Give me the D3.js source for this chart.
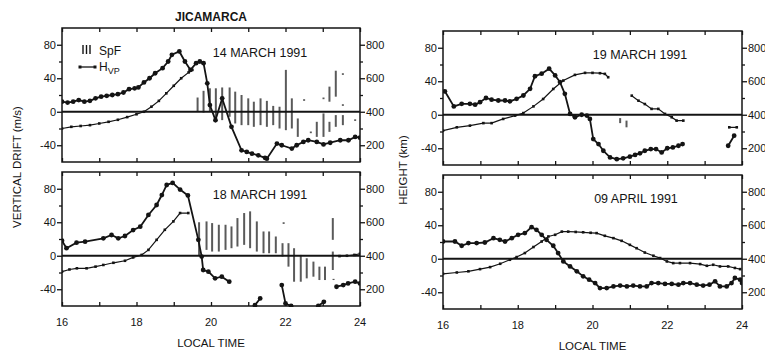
<!DOCTYPE html>
<html><head><meta charset="utf-8">
<script src="https://cdn.jsdelivr.net/npm/d3@7"></script>
<style>
body{margin:0;background:#fff}
svg{display:block}
text{font-family:"Liberation Sans",Arial,Helvetica,sans-serif;fill:#141414}
</style>
</head><body>
<svg id="chart" width="765" height="351"></svg>
<script>
// ---------- tick data ----------
const hourTicks = [16,17,18,19,20,21,22,23,24];
const hourLabels = [16,18,20,22,24];
const driftTicks = [-40,0,40,80];
const driftMinorTicks = [-20,20,60];
const heightTicks = [200,400,600,800];
const heightMinorTicks = [300,500,700];

// ---------- 14 MARCH 1991 ----------
const mar14Drift = [[16.0,12],[16.15,11],[16.3,12],[16.45,14],[16.6,12],[16.75,13],[16.9,16],[17.05,18],[17.2,19],[17.35,20],[17.5,21],[17.65,23],[17.8,27],[17.95,28],[18.05,29],[18.2,35],[18.35,40],[18.5,46],[18.7,52],[18.85,60],[18.95,68],[19.15,72],[19.3,60],[19.45,50],[19.6,58],[19.7,60],[19.8,58],[19.9,34],[19.97,8],[20.12,-10],[20.3,16],[20.55,-18],[20.82,-46],[20.96,-48],[21.1,-50],[21.27,-52],[21.45,-55],[21.5,-56],[21.77,-38],[21.9,-40],[22.17,-44],[22.3,-40],[22.48,-36],[22.61,-34],[22.84,-36],[23.02,-39],[23.2,-37],[23.47,-34],[23.69,-34],[23.87,-30],[24.0,-31]];
const mar14Height = [[16.0,300],[16.25,310],[16.5,315],[16.75,320],[17.0,330],[17.25,340],[17.5,352],[17.75,368],[18.0,385],[18.2,400],[18.4,430],[18.6,465],[18.8,510],[19.0,555],[19.2,600],[19.4,635],[19.5,650]];
const mar14SpF = [[19.64,400,485],[19.80,395,525],[19.97,400,540],[20.13,360,540],[20.30,350,545],[20.50,370,545],[20.65,330,520],[20.82,320,500],[21.00,320,480],[21.15,310,460],[21.33,320,480],[21.50,310,465],[21.67,320,435],[21.84,300,430],[22.01,290,650],[22.17,300,480],[22.33,250,360],[22.50,465,475],[22.68,272,282],[22.84,250,340],[23.02,475,485],[23.02,250,390],[23.18,460,550],[23.18,280,340],[23.35,490,645],[23.35,310,380],[23.54,620,630],[23.54,435,445],[23.54,320,380],[23.87,345,355]];

// ---------- 18 MARCH 1991 ----------
const mar18Drift = [[16.0,18],[16.12,9],[16.39,15.6],[16.62,16.8],[17.11,20.8],[17.33,24.8],[17.51,20.8],[17.69,23.6],[17.91,30.7],[18.1,34.7],[18.32,48.7],[18.54,60.6],[18.68,72.5],[18.81,84.5],[18.97,87],[19.17,79],[19.38,72],[19.66,19],[19.75,-1],[19.79,-17],[19.93,-19],[20.11,-27],[20.29,-25],[20.49,-31],null,[21.18,-59],[21.32,-51],null,[21.9,-35],[22.0,-57],[22.15,-60],null,[22.88,-60],[23.03,-55],null,[23.37,-37],[23.55,-35],[23.68,-33],[23.87,-31],[24.0,-33]];
const mar18Height = [[16.0,305],[16.2,318],[16.4,325],[16.66,325],[16.9,335],[17.11,345],[17.38,358],[17.69,370],[17.91,390],[18.14,405],[18.32,435],[18.54,495],[18.76,555],[18.99,605],[19.17,655],[19.39,655],null,[23.45,398],[23.65,400],[23.85,405],[24.0,412]];
const mar18SpF = [[19.68,400,600],[19.88,435,605],[20.03,425,595],[20.21,425,585],[20.39,435,585],[20.55,445,575],[20.71,455,625],[20.89,465,655],[21.05,445,665],[21.23,425,605],[21.41,415,545],[21.56,415,545],[21.74,415,515],[21.92,395,475],[21.95,590,600],[22.08,335,475],[22.23,245,445],[22.41,245,405],[22.57,265,385],[22.75,275,365],[22.91,255,335],[23.06,255,335],[23.27,495,625],[23.27,315,425],[23.29,255,262]];

// ---------- 19 MARCH 1991 ----------
const mar19Drift = [[16.05,28],[16.29,10],[16.5,13],[16.72,13],[16.86,12],[16.99,15],[17.15,20],[17.3,18],[17.48,17],[17.66,17],[17.79,16],[17.97,19],[18.15,23],[18.33,31],[18.46,46],[18.64,49],[18.84,55],[19.0,47],[19.13,39],[19.26,25],[19.4,1],[19.53,-3],[19.71,0],[19.85,-1],[19.93,-5],[20.02,-29],[20.16,-35],[20.29,-43],[20.47,-51],[20.65,-53],[20.82,-52],[21.0,-50],[21.14,-48],[21.27,-46],[21.4,-43],[21.56,-41],[21.7,-41],[21.85,-45],[22.0,-40],[22.15,-39],[22.3,-37],[22.41,-35],null,[23.63,-37],[23.79,-25]];
const mar19Height = [[16.0,305],[16.37,325],[16.72,335],[17.08,350],[17.3,350],[17.61,375],[17.93,395],[18.15,410],[18.42,450],[18.68,494],[18.95,554],[19.22,604],[19.53,638],[19.8,650],[20.0,650],[20.2,648],[20.33,644],[20.42,624],null,[21.05,514],[21.23,484],[21.4,464],[21.58,435],[21.76,435],[21.94,405],[22.12,385],[22.25,365],[22.43,365],null,[23.66,325],[23.86,325]];
const mar19SpF = [[20.74,350,380],[20.91,325,365]];

// ---------- 09 APRIL 1991 ----------
const apr09Drift = [[16.0,20.6],[16.32,20.6],[16.5,15.5],[16.68,18.7],[16.9,18.7],[17.12,19.4],[17.35,24.6],[17.52,22.6],[17.66,20.6],[17.84,24.6],[18.01,28.6],[18.19,30.6],[18.37,37.7],[18.5,34.5],[18.64,28.6],[18.77,22.6],[18.95,15.5],[19.08,6.8],[19.22,-3.2],[19.4,-9.2],[19.58,-15],[19.75,-21],[19.91,-25],[20.07,-29],[20.2,-35],[20.38,-35],[20.56,-33],[20.74,-32],[20.92,-33],[21.09,-32],[21.27,-33],[21.45,-33],[21.58,-29],[21.76,-29],[21.94,-30],[22.12,-30],[22.3,-31],[22.43,-29],[22.61,-29],[22.79,-31],[22.96,-32],[23.13,-31],[23.28,-27],[23.41,-33],[23.59,-33],[23.72,-29],[23.81,-23],[23.95,-25],[24.0,-29]];
const apr09Height = [[16.0,310],[16.37,318],[16.68,325],[16.99,338],[17.26,350],[17.53,370],[17.79,394],[17.97,410],[18.19,434],[18.42,470],[18.64,503],[18.82,533],[19.0,543],[19.18,562],[19.35,562],[19.55,560],[19.75,558],[19.95,555],[20.11,553],[20.33,537],[20.56,523],[20.78,507],[21.0,483],[21.18,463],[21.4,437],[21.63,418],[21.81,404],[21.99,384],[22.16,374],[22.34,374],[22.61,374],[22.88,368],[23.06,358],[23.23,364],[23.41,354],[23.63,354],[23.81,345],[23.95,338]];
const apr09SpF = [];

// ---------- layout ----------
const panels = [
  {x0:62, x1:360, y0:28,  y1:162, title:"14 MARCH 1991", tx:260, ty:57,  drift:mar14Drift, height:mar14Height, spf:mar14SpF, bottomLabels:false},
  {x0:62, x1:360, y0:172, y1:306, title:"18 MARCH 1991", tx:260, ty:199, drift:mar18Drift, height:mar18Height, spf:mar18SpF, bottomLabels:true},
  {x0:443,x1:742, y0:31,  y1:165, title:"19 MARCH 1991", tx:640, ty:59,  drift:mar19Drift, height:mar19Height, spf:mar19SpF, bottomLabels:false},
  {x0:443,x1:742, y0:175, y1:309, title:"09 APRIL 1991", tx:636, ty:203, drift:apr09Drift, height:apr09Height, spf:apr09SpF, bottomLabels:true}
];

const svg = d3.select("#chart");
const ink = "#141414";

panels.forEach((p, i) => {
  const x = d3.scaleLinear().domain([16,24]).range([p.x0,p.x1]);
  const yD = d3.scaleLinear().domain([-60,100]).range([p.y1,p.y0]);
  const yH = d3.scaleLinear().domain([100,900]).range([p.y1,p.y0]);
  const g = svg.append("g");

  const clipId = "clip"+i;
  svg.append("clipPath").attr("id",clipId).append("rect")
     .attr("x",p.x0).attr("y",p.y0-1).attr("width",p.x1-p.x0).attr("height",p.y1-p.y0+2);

  // axes (ticks)
  const styleAxis = sel => { sel.select(".domain").remove(); sel.selectAll("line").attr("stroke",ink).attr("stroke-width",1.3); sel.selectAll("text").remove(); };
  g.append("g").attr("transform",`translate(0,${p.y0})`).call(d3.axisTop(x).tickValues(hourTicks).tickSize(-4)).call(styleAxis);
  g.append("g").attr("transform",`translate(0,${p.y1})`).call(d3.axisBottom(x).tickValues(hourTicks).tickSize(-4)).call(styleAxis);
  g.append("g").attr("transform",`translate(${p.x0},0)`).call(d3.axisLeft(yD).tickValues(driftTicks).tickSize(5)).call(styleAxis);
  g.append("g").attr("transform",`translate(${p.x0},0)`).call(d3.axisLeft(yD).tickValues(driftMinorTicks).tickSize(3)).call(styleAxis);
  g.append("g").attr("transform",`translate(${p.x1},0)`).call(d3.axisRight(yH).tickValues(heightTicks).tickSize(5)).call(styleAxis);
  g.append("g").attr("transform",`translate(${p.x1},0)`).call(d3.axisRight(yH).tickValues(heightMinorTicks).tickSize(3)).call(styleAxis);

  // tick labels
  g.selectAll(null).data(driftTicks).join("text")
    .attr("x",p.x0-6).attr("y",d=>yD(d)+4).attr("text-anchor","end")
    .attr("font-size",11).text(d=>d);
  g.selectAll(null).data(heightTicks).join("text")
    .attr("x",p.x1+6).attr("y",d=>yH(d)+4).attr("text-anchor","start")
    .attr("font-size",11).text(d=>d);
  if (p.bottomLabels) {
    g.selectAll(null).data(hourLabels).join("text")
      .attr("x",d=>x(d)).attr("y",p.y1+20).attr("text-anchor","middle")
      .attr("font-size",11).text(d=>d);
    g.append("text").attr("x",(p.x0+p.x1)/2).attr("y",p.y1+41).attr("text-anchor","middle")
      .attr("font-size",11.5).text("LOCAL TIME");
  }

  // frame
  g.append("rect").attr("x",p.x0).attr("y",p.y0).attr("width",p.x1-p.x0).attr("height",p.y1-p.y0)
    .attr("fill","none").attr("stroke",ink).attr("stroke-width",1.5);

  const plot = g.append("g").attr("clip-path",`url(#${clipId})`);

  // SpF bars
  plot.selectAll(null).data(p.spf).join("line")
    .attr("x1",d=>x(d[0])).attr("x2",d=>x(d[0]))
    .attr("y1",d=>yH(d[1])).attr("y2",d=>yH(d[2]))
    .attr("stroke","#5a5a5a").attr("stroke-width",2);

  // zero line
  plot.append("line").attr("x1",p.x0).attr("x2",p.x1).attr("y1",yD(0)).attr("y2",yD(0))
    .attr("stroke",ink).attr("stroke-width",2);

  // height line
  const lineH = d3.line().defined(d=>d!==null).x(d=>x(d[0])).y(d=>yH(d[1]));
  plot.append("path").datum(p.height).attr("d",lineH)
    .attr("fill","none").attr("stroke",ink).attr("stroke-width",1.2);
  plot.selectAll(null).data(p.height.filter(d=>d)).join("rect")
    .attr("x",d=>x(d[0])-1.3).attr("y",d=>yH(d[1])-1.3).attr("width",2.6).attr("height",2.6)
    .attr("fill",ink);

  // drift line
  const lineD = d3.line().defined(d=>d!==null).x(d=>x(d[0])).y(d=>yD(d[1]));
  plot.append("path").datum(p.drift).attr("d",lineD)
    .attr("fill","none").attr("stroke",ink).attr("stroke-width",1.8);
  plot.selectAll(null).data(p.drift.filter(d=>d)).join("circle")
    .attr("cx",d=>x(d[0])).attr("cy",d=>yD(d[1])).attr("r",2.4).attr("fill",ink);

  // title
  g.append("text").attr("x",p.tx).attr("y",p.ty).attr("text-anchor","middle")
    .attr("font-size",12.5).text(p.title);
});

// station name
svg.append("text").attr("x",211).attr("y",21).attr("text-anchor","middle")
  .attr("font-size",12).attr("font-weight","bold").text("JICAMARCA");

// y-axis titles
svg.append("text").attr("transform","translate(21,167) rotate(-90)").attr("text-anchor","middle")
  .attr("font-size",11.5).text("VERTICAL DRIFT (m/s)");
svg.append("text").attr("transform","translate(407,170) rotate(-90)").attr("text-anchor","middle")
  .attr("font-size",11.5).text("HEIGHT (km)");

// legend
const lg = svg.append("g");
lg.selectAll(null).data([83,86.5,90]).join("line")
  .attr("x1",d=>d).attr("x2",d=>d).attr("y1",45).attr("y2",54)
  .attr("stroke",ink).attr("stroke-width",1.4);
lg.append("text").attr("x",99).attr("y",54.5).attr("font-size",12).text("SpF");
lg.append("line").attr("x1",79).attr("x2",96).attr("y1",67).attr("y2",67).attr("stroke",ink).attr("stroke-width",1.3);
lg.selectAll(null).data([80,95]).join("rect")
  .attr("x",d=>d-1.5).attr("y",65.5).attr("width",3).attr("height",3).attr("fill",ink);
const ht = lg.append("text").attr("x",99).attr("y",71).attr("font-size",12);
ht.append("tspan").text("H");
ht.append("tspan").attr("font-size",9).attr("dy",3).text("VP");
</script>
</body></html>
